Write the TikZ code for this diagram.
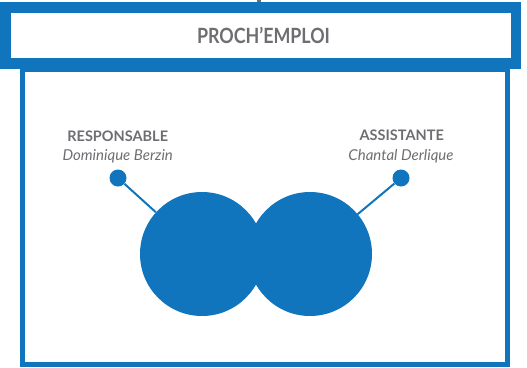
\documentclass[tikz,border=0pt]{standalone}
\usepackage{fontspec}
\setmainfont{Lato}
\newfontfamily\titlefont[FakeStretch=0.85]{Lato}
\usetikzlibrary{positioning}
\definecolor{pblue}{RGB}{17,117,190}
\definecolor{pgray}{RGB}{109,110,113}

\begin{document}
\begin{tikzpicture}[x=1pt,y=-1pt,
		role/.style={text=pgray,font=\fontsize{14.5}{15}\selectfont\bfseries,inner sep=0pt,anchor=base},
		person/.style={text=pgray,font=\fontsize{15}{15}\selectfont\itshape,inner sep=0pt,anchor=base},
		dot/.style={circle,fill=pblue,minimum size=17pt,inner sep=0pt},
		bubble/.style={circle,fill=pblue,minimum size=124pt,inner sep=0pt},
		link/.style={draw=pblue,line width=2pt}]
		\useasboundingbox (0,0) rectangle (527,367);
		\draw[pblue,line width=5pt] (22.5,69) rectangle (507,364.5);
		\draw[pgray,line width=4pt] (259,0) -- (259,3);
		\node[draw=pblue,line width=10.7pt,fill=white,minimum width=510.5pt,minimum height=55.75pt,inner sep=0pt] (header) at (260.75,35.6) {};
		\node[text=pgray,font=\titlefont\fontsize{21}{21}\selectfont\bfseries] (title) at (263.5,35.6) {PROCH’EMPLOI};
		\node[bubble] (bubbleL) at (202,254) {};
		\node[bubble] (bubbleR) at (310,254) {};
		\node[dot] (dotL) at (118,178) {};
		\node[dot] (dotR) at (401,178) {};
		\draw[link] (dotL) -- (bubbleL);
		\draw[link] (dotR) -- (bubbleR);
		\node[role] (roleL) at (117.7,141.7) {RESPONSABLE};
		\node[person] (nameL) at (117.7,160) {Dominique Berzin};
		\node[role] (roleR) at (401.7,140.7) {ASSISTANTE};
		\node[person] (nameR) at (401,160.5) {Chantal Derlique};
	\end{tikzpicture}
\end{document}
